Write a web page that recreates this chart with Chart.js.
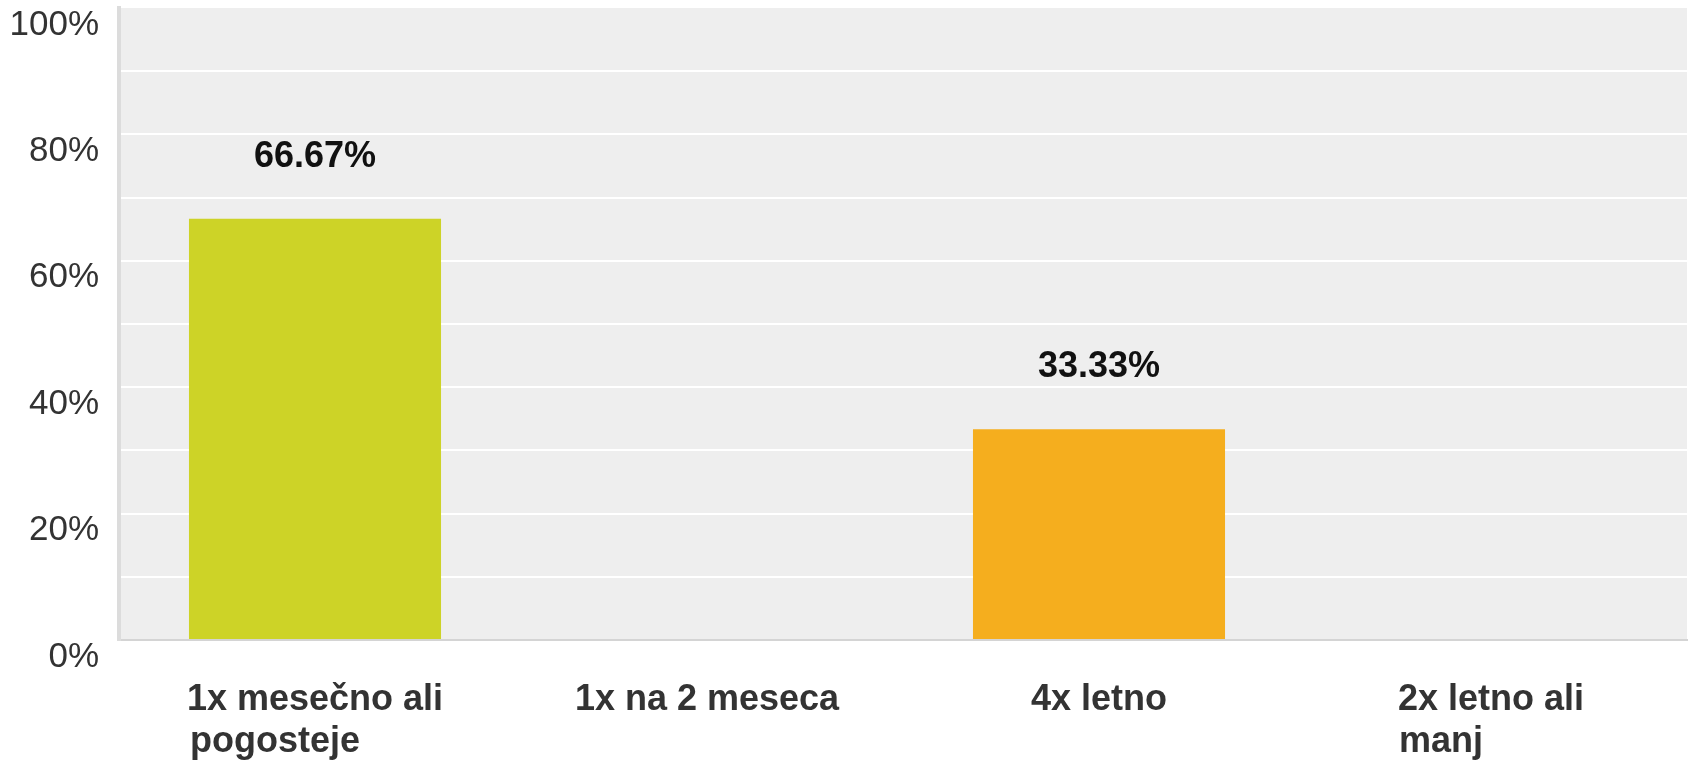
<!DOCTYPE html>
<html>
<head>
<meta charset="utf-8">
<script src="https://cdn.jsdelivr.net/npm/chart.js@4.4.1/dist/chart.umd.min.js"></script>
<style>
  html, body { margin: 0; padding: 0; background: #fff; }
  #wrap { width: 1688px; height: 760px; }
</style>
</head>
<body>
<div id="wrap"><canvas id="freqChart"></canvas></div>
<script>
const categories = [["1x mesečno ali", "pogosteje"], ["1x na 2 meseca"], ["4x letno"], ["2x letno ali", "manj"]];
const percentages = [66.67, 0, 33.33, 0];
const barColors = ["#cdd327", "#5eb4d6", "#f5ae1e", "#9b7fc0"];
const yTickLabels = [0, 20, 40, 60, 80, 100];

const fontFamily = "'Liberation Sans', Arial, sans-serif";
const xFont = { family: fontFamily, size: 36, weight: "bold", lineHeight: 1.17 };

// pad short lines with spaces so a centered multi-line label reads left-aligned
const measure = document.createElement("canvas").getContext("2d");
measure.font = "bold 36px " + fontFamily;
function padLines(lines) {
    const w = Math.max(...lines.map(l => measure.measureText(l).width));
    return lines.map(l => {
        while (measure.measureText(l + " ").width <= w + 3) l += " ";
        return l;
    });
}

const plotBackground = {
    id: "plotBackground",
    beforeDraw(chart) {
        const { ctx, chartArea: a } = chart;
        ctx.save();
        ctx.fillStyle = "#eeeeee";
        ctx.fillRect(a.left, a.top, a.right - a.left, a.bottom - a.top);
        ctx.restore();
    }
};

const valueLabels = {
    id: "valueLabels",
    afterDatasetsDraw(chart) {
        const ctx = chart.ctx;
        ctx.save();
        ctx.font = "bold 36px " + fontFamily;
        ctx.fillStyle = "#111";
        ctx.textAlign = "center";
        ctx.textBaseline = "middle";
        chart.getDatasetMeta(0).data.forEach((bar, i) => {
            const v = percentages[i];
            if (!v) return;
            ctx.fillText(v.toFixed(2) + "%", bar.x, bar.y - 62);
        });
        ctx.restore();
    }
};

document.addEventListener("DOMContentLoaded", function () {
    let ctx = document.getElementById("freqChart").getContext("2d");

    new Chart(ctx, {
        type: "bar",
        data: {
            labels: categories.map(padLines),
            datasets: [{
                data: percentages,
                backgroundColor: barColors,
                borderWidth: 0,
                categoryPercentage: 1,
                barPercentage: 0.643
            }]
        },
        options: {
            responsive: true,
            maintainAspectRatio: false,
            animation: false,
            layout: { padding: { left: 0, top: 8, right: 1, bottom: 0 } },
            plugins: {
                legend: { display: false },
                tooltip: { enabled: false }
            },
            scales: {
                x: {
                    afterFit: scale => { scale.height = 120; },
                    grid: { display: false, drawTicks: false },
                    border: { display: true, color: "#d4d4d4", width: 2 },
                    ticks: {
                        font: xFont,
                        color: "#333",
                        padding: 39,
                        maxRotation: 0,
                        autoSkip: false
                    }
                },
                y: {
                    min: 0,
                    max: 100,
                    afterFit: scale => {
                        scale.width = 119;
                        scale.paddingTop = 0;
                        scale.paddingBottom = 0;
                    },
                    grid: {
                        drawTicks: false,
                        lineWidth: 2,
                        color: c => (c.tick.value === 0 || c.tick.value === 100) ? "rgba(0,0,0,0)" : "#ffffff"
                    },
                    border: { display: true, color: "#dcdcdc", width: 4 },
                    ticks: {
                        stepSize: 10,
                        padding: 20,
                        labelOffset: 17,
                        color: "#333",
                        font: { family: fontFamily, size: 35 },
                        callback: v => yTickLabels.includes(v) ? v + "%" : ""
                    }
                }
            }
        },
        plugins: [plotBackground, valueLabels]
    });
});
</script>
</body>
</html>
